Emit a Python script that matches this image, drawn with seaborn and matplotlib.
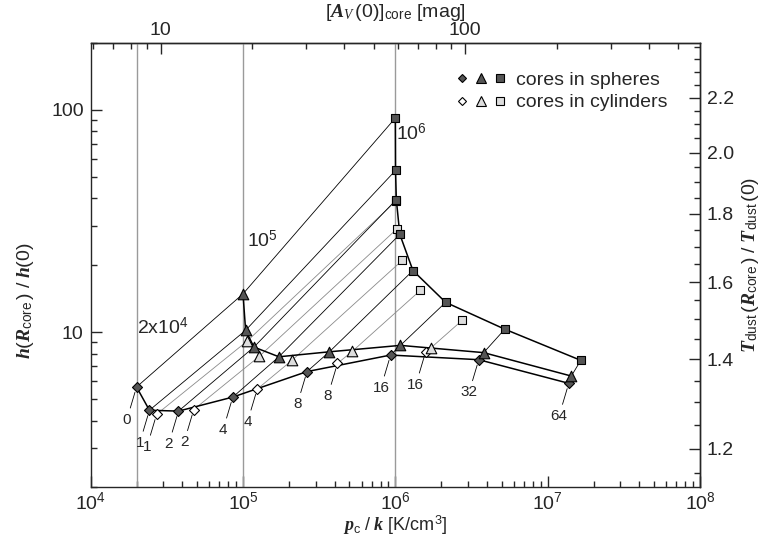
"""
Core h-ratio vs central pressure, spheres and cylinders at three external pressures.
"""

import numpy as np
import pandas as pd
import matplotlib
matplotlib.use("Agg")
import matplotlib.pyplot as plt
import seaborn as sns
from matplotlib.ticker import FixedLocator, FixedFormatter, NullFormatter, FormatStrFormatter
from matplotlib.lines import Line2D
from matplotlib.legend_handler import HandlerTuple

# external pressures (vertical lines) and their labels
P_EXT = [2e4, 1e5, 1e6]
P_EXT_LABELS = [r"2x10$^{4}$", r"10$^{5}$", r"10$^{6}$"]

# index labels along the curves
IDX_SPH = [0, 1, 2, 4, 8, 16, 32, 64]
IDX_CYL = [1, 2, 4, 8, 16]

# cores in spheres
SPH_DIA_P = [2.0e4, 2.43e4, 3.77e4, 8.57e4, 2.63e5, 9.31e5, 3.53e6, 1.376e7]
SPH_DIA_H = [5.66, 4.45, 4.41, 5.10, 6.64, 7.88, 7.51, 5.88]
SPH_TRI_P = [1.0e5, 1.04e5, 1.18e5, 1.72e5, 3.69e5, 1.08e6, 3.80e6, 1.43e7]
SPH_TRI_H = [14.85, 10.18, 8.56, 7.74, 8.15, 8.71, 8.08, 6.34]
SPH_SQR_P = [1.0e6, 1.003e6, 1.015e6, 1.07e6, 1.305e6, 2.14e6, 5.23e6, 1.65e7]
SPH_SQR_H = [91.7, 53.3, 39.4, 27.5, 18.9, 13.6, 10.3, 7.46]

# cores in cylinders
CYL_DIA_P = [2.71e4, 4.75e4, 1.24e5, 4.17e5, 1.58e6]
CYL_DIA_H = [4.27, 4.48, 5.54, 7.23, 8.13]
CYL_TRI_P = [1.06e5, 1.28e5, 2.09e5, 5.22e5, 1.72e6]
CYL_TRI_H = [9.08, 7.78, 7.45, 8.19, 8.51]
CYL_SQR_P = [1.005e6, 1.03e6, 1.11e6, 1.46e6, 2.75e6]
CYL_SQR_H = [38.7, 29.2, 21.0, 15.4, 11.3]

P0_AV = 288.0  # A_V = sqrt(p / P0_AV)

MARKERS = {2e4: "D", 1e5: "^", 1e6: "s"}
MSIZE = {2e4: 26, 1e5: 58, 1e6: 40}
DARK = "#555555"
LIGHT = "#dddddd"


def montar_tabela():
    partes = []
    grupos = [
        ("sphere", IDX_SPH, [(2e4, SPH_DIA_P, SPH_DIA_H), (1e5, SPH_TRI_P, SPH_TRI_H), (1e6, SPH_SQR_P, SPH_SQR_H)]),
        ("cylinder", IDX_CYL, [(2e4, CYL_DIA_P, CYL_DIA_H), (1e5, CYL_TRI_P, CYL_TRI_H), (1e6, CYL_SQR_P, CYL_SQR_H)]),
    ]
    for geom, idx, series in grupos:
        for pext, p, h in series:
            partes.append(pd.DataFrame({"geom": geom, "pext": pext, "idx": idx, "p": p, "h": h}))
    return pd.concat(partes, ignore_index=True)


sns.set_theme(style="ticks")
plt.rcParams["font.family"] = ["Liberation Sans", "DejaVu Sans"]
plt.rcParams["mathtext.fontset"] = "custom"
plt.rcParams["mathtext.rm"] = "Liberation Sans"
plt.rcParams["mathtext.sf"] = "Liberation Sans"
plt.rcParams["mathtext.it"] = "Liberation Serif:italic"
plt.rcParams["mathtext.bf"] = "Liberation Serif:bold:italic"
plt.rcParams["axes.linewidth"] = 1.0

df = montar_tabela()
sph = df[df["geom"] == "sphere"]
cyl = df[df["geom"] == "cylinder"]

fig, ax = plt.subplots(figsize=(7.64, 5.38), dpi=100)
fig.subplots_adjust(left=0.1187, right=0.9162, bottom=0.0939, top=0.9206)
ax.set_xscale("log")
ax.set_yscale("log")
ax.set_xlim(1e4, 1e8)
ax.set_ylim(2, 200)

for pe in P_EXT:
    ax.axvline(pe, color="#9a9a9a", lw=1.0, zorder=1)

# thin lines joining equal index across external pressures
sns.lineplot(data=cyl, x="p", y="h", units="idx", estimator=None, sort=False,
             color="#8a8a8a", lw=0.6, ax=ax, legend=False, zorder=2)
sns.lineplot(data=sph, x="p", y="h", units="idx", estimator=None, sort=False,
             color="black", lw=0.6, ax=ax, legend=False, zorder=2)
# sphere sequences
sns.lineplot(data=sph, x="p", y="h", units="pext", estimator=None, sort=False,
             color="black", lw=1.1, ax=ax, legend=False, zorder=3)

for pext, m in MARKERS.items():
    d = sph[sph["pext"] == pext]
    sns.scatterplot(data=d, x="p", y="h", marker=m, s=MSIZE[pext], color=DARK,
                    edgecolor="black", linewidth=0.8, ax=ax, legend=False, zorder=5)
    d = cyl[cyl["pext"] == pext]
    sns.scatterplot(data=d, x="p", y="h", marker=m, s=MSIZE[pext],
                    color="white" if m == "D" else LIGHT,
                    edgecolor="black", linewidth=0.8, ax=ax, legend=False, zorder=4)

# index labels below the diamonds
for _, r in df[df["pext"] == 2e4].iterrows():
    ax.annotate(str(r["idx"]), xy=(r["p"], r["h"]), xytext=(-7, -23.5),
                textcoords="offset points", ha="center", va="center", fontsize=11,
                arrowprops=dict(arrowstyle="-", color="black", lw=0.6, shrinkA=1, shrinkB=4))

# external pressure labels
ax.text(2.97e4, 10.5, P_EXT_LABELS[0], fontsize=14, ha="center", va="center")
ax.text(1.35e5, 25.8, P_EXT_LABELS[1], fontsize=14, ha="center", va="center")
ax.text(1.27e6, 78.0, P_EXT_LABELS[2], fontsize=14, ha="center", va="center")

# axes, ticks
ax.yaxis.set_major_locator(FixedLocator([10, 100]))
ax.yaxis.set_major_formatter(FixedFormatter(["10", "100"]))
ax.yaxis.set_minor_formatter(NullFormatter())
ax.xaxis.set_minor_formatter(NullFormatter())
ax.tick_params(which="both", direction="in", top=False, right=False, labelsize=14, pad=5)
ax.tick_params(axis="x", pad=3)
ax.tick_params(which="major", length=8, width=1)
ax.tick_params(which="minor", length=4, width=1)

ax.set_xlabel(r"$\mathbf{p}_{\rm c}\ /\ \mathbf{k}$ [K/cm$^{3}$]", fontsize=13, labelpad=0)
ax.set_ylabel(r"$\mathbf{h}(\mathbf{R}_{\rm core}\,)\ /\ \mathbf{h}(0)$", fontsize=14)
ax.yaxis.set_label_coords(-0.09, 0.42)

sec_y = ax.secondary_yaxis("right", functions=(lambda h: np.power(np.clip(h, 1e-12, None), 1 / 6),
                                               lambda t: np.power(t, 6)))
sec_y.yaxis.set_major_locator(FixedLocator([1.2, 1.4, 1.6, 1.8, 2.0, 2.2]))
sec_y.yaxis.set_major_formatter(FormatStrFormatter("%.1f"))
sec_y.yaxis.set_minor_locator(FixedLocator(np.arange(1.15, 2.41, 0.05)))
sec_y.yaxis.set_minor_formatter(NullFormatter())
sec_y.tick_params(which="both", direction="in", labelsize=14, pad=5)
sec_y.tick_params(which="major", length=8, width=1)
sec_y.tick_params(which="minor", length=4, width=1)
sec_y.set_ylabel(r"$\mathbf{T}_{\rm dust}\,(\mathbf{R}_{\rm core}\,)\ /\ \mathbf{T}_{\rm dust}\,(0)$", fontsize=14)

sec_x = ax.secondary_xaxis("top", functions=(lambda p: np.sqrt(np.clip(p, 1e-12, None) / P0_AV),
                                             lambda a: P0_AV * np.power(a, 2)))
sec_x.xaxis.set_major_locator(FixedLocator([10, 100]))
sec_x.xaxis.set_major_formatter(FixedFormatter(["10", "100"]))
sec_x.xaxis.set_minor_locator(FixedLocator([6, 7, 8, 9, 20, 30, 40, 50, 60, 70, 80, 90, 200, 300, 400, 500]))
sec_x.xaxis.set_minor_formatter(NullFormatter())
sec_x.tick_params(which="both", direction="in", labelsize=14, pad=3)
sec_x.tick_params(which="major", length=8, width=1)
sec_x.tick_params(which="minor", length=4, width=1)
sec_x.set_xlabel(r"$[\mathbf{A}_{\mathit{V}}\,(0)]_{\rm core}$ [mag]", fontsize=14, labelpad=3)

# legend
sph_h = tuple(Line2D([], [], ls="none", marker=m, ms=s, mfc=DARK, mec="black", mew=0.8)
              for m, s in zip("D^s", [4.2, 6.5, 5.5]))
cyl_h = tuple(Line2D([], [], ls="none", marker=m, ms=s, mfc=c, mec="black", mew=0.8)
              for m, s, c in zip("D^s", [4.2, 6.5, 5.5], ["white", LIGHT, LIGHT]))
ax.legend([sph_h, cyl_h], ["cores in spheres", "cores in cylinders"],
          handler_map={tuple: HandlerTuple(ndivide=None, pad=0.5)},
          loc="upper right", bbox_to_anchor=(0.975, 0.975), frameon=False, fontsize=14,
          handlelength=2.4, handletextpad=0.6, labelspacing=0.25)

fig.savefig("out.png", dpi=100)
plt.close(fig)
